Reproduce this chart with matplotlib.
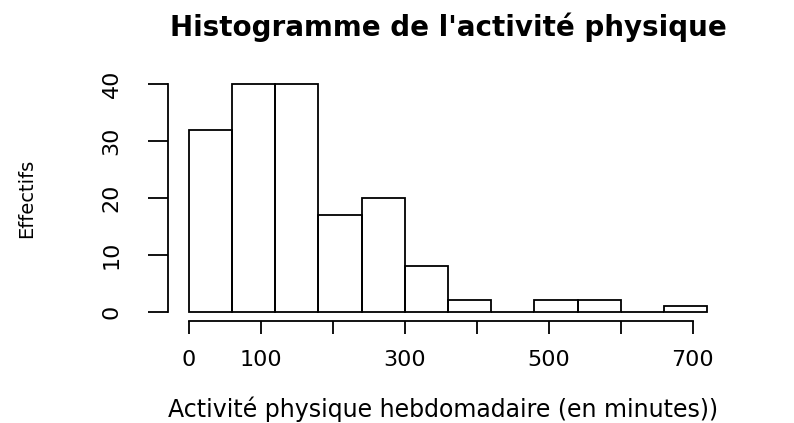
import matplotlib
matplotlib.use("Agg")
import matplotlib.pyplot as plt

# histogramme : bornes des classes (minutes) et effectifs
bin_edges = [0, 60, 120, 180, 240, 300, 360, 420, 480, 540, 600, 660, 720]
counts = [32, 40, 40, 17, 20, 8, 2, 0, 2, 2, 0, 1]

x_ticks = [0, 100, 200, 300, 400, 500, 600, 700]
x_ticklabels = ["0", "100", "", "300", "", "500", "", "700"]
y_ticks = [0, 10, 20, 30, 40]

title = "Histogramme de l'activité physique"
xlabel = "Activité physique hebdomadaire (en minutes))"
ylabel = "Effectifs"

plt.rcParams["font.family"] = ["DejaVu Sans"]

W, H = 794, 423
fig = plt.figure(figsize=(W / 100, H / 100), dpi=100)
ax = fig.add_axes([168 / W, 1 - 321 / H, 560 / W, 246 / H])

lefts = bin_edges[:-1]
widths = [b - a for a, b in zip(bin_edges[:-1], bin_edges[1:])]
ax.bar(lefts, counts, width=widths, align="edge", fill=False,
       edgecolor="black", linewidth=1.3)

# marges à la R (4 %)
xr = bin_edges[-1] - bin_edges[0]
ax.set_xlim(bin_edges[0] - 0.04 * xr, bin_edges[-1] + 0.04 * xr)
ax.set_ylim(-0.04 * 40, 40 * 1.04)

for s in ("top", "right"):
    ax.spines[s].set_visible(False)
ax.spines["left"].set_bounds(0, 40)
ax.spines["bottom"].set_bounds(0, 700)
for s in ("left", "bottom"):
    ax.spines[s].set_linewidth(1.3)

ax.set_xticks(x_ticks)
ax.set_xticklabels(x_ticklabels, fontsize=16)
ax.set_yticks(y_ticks)
ax.set_yticklabels([str(v) for v in y_ticks], fontsize=16, rotation=90, va="center")
ax.tick_params(axis="x", direction="out", length=9, width=1.3, pad=12)
ax.tick_params(axis="y", direction="out", length=14.5, width=1.3, pad=19)

fig.text((168 + 728) / 2 / W, 1 - 27 / H, title, fontsize=20, fontweight="bold",
         ha="center", va="center")
fig.text(443 / W, 1 - 409 / H, xlabel, fontsize=17, ha="center", va="center")
fig.text(27 / W, 1 - 198 / H, ylabel, fontsize=14, rotation=90,
         ha="center", va="center")

fig.savefig("out.png", dpi=100)
